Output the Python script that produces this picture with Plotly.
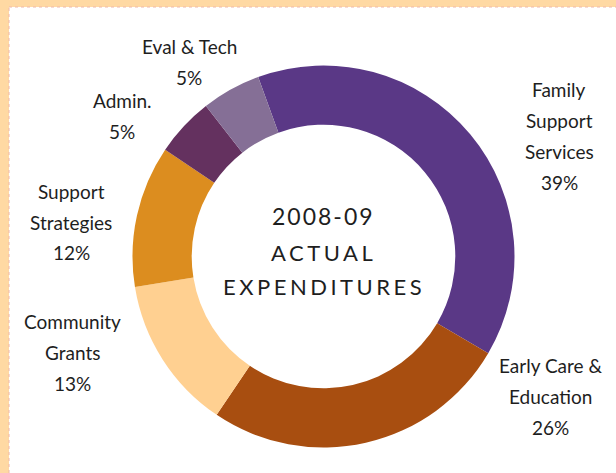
import plotly.graph_objects as go

# slices, clockwise from the top
labels = ['Family Support Services', 'Early Care & Education', 'Community Grants',
          'Support Strategies', 'Admin.', 'Eval & Tech']
label_lines = [['Family', 'Support', 'Services'], ['Early Care &', 'Education'],
               ['Community', 'Grants'], ['Support', 'Strategies'], ['Admin.'], ['Eval & Tech']]
values = [39, 26, 13, 12, 5, 5]
colors = ['#5a3886', '#a84e10', '#ffd091', '#dc8d1f', '#64315f', '#856f96']

W, H = 616, 473
cx, cy, r = 323.5, 256.5, 191

# where each label block sits (pixel centre)
label_pos = [(559, 136), (550, 396), (72, 352), (71, 222), (122, 116), (189, 62)]
line_gap = 31

fig = go.Figure(go.Pie(
    labels=labels, values=values, sort=False, direction='clockwise', rotation=-20,
    hole=0.69, textinfo='none', hoverinfo='label+percent',
    marker=dict(colors=colors, line=dict(width=0)),
    domain=dict(x=[(cx - r) / W, (cx + r) / W], y=[(H - cy - r) / H, (H - cy + r) / H]),
))

font = 'Lato, "Open Sans", sans-serif'
annotations = []
for lines, v, (px, py) in zip(label_lines, values, label_pos):
    rows = lines + [f'{v}%']
    n = len(rows)
    for i, t in enumerate(rows):
        y = py + (i - (n - 1) / 2) * line_gap
        annotations.append(dict(
            x=px / W, y=1 - y / H, xref='paper', yref='paper', showarrow=False,
            text=t, xanchor='center', yanchor='middle',
            font=dict(family=font, size=19, color='#1e1e1e')))

center_text = [('2008-09', 216, 23, 2), ('ACTUAL', 252, 22, 3.5), ('EXPENDITURES', 286, 22, 3.5)]
for t, y, s, sp in center_text:
    annotations.append(dict(
        x=cx / W, y=1 - y / H, xref='paper', yref='paper', showarrow=False,
        text=f'<span style="letter-spacing:{sp}px">{t}</span>',
        xanchor='center', yanchor='middle',
        font=dict(family=font, size=s, color='#1e1e1e')))

peach = '#ffd9a3'
shapes = [
    dict(type='rect', xref='paper', yref='paper', x0=0, x1=9 / W, y0=0, y1=1,
         fillcolor=peach, line=dict(width=0), layer='below'),
    dict(type='rect', xref='paper', yref='paper', x0=0, x1=1, y0=1 - 7 / H, y1=1,
         fillcolor=peach, line=dict(width=0), layer='below'),
    dict(type='line', xref='paper', yref='paper', x0=9 / W, x1=9 / W, y0=0, y1=1 - 7 / H,
         line=dict(color='#f0b8a8', width=1, dash='dot')),
    dict(type='line', xref='paper', yref='paper', x0=9 / W, x1=1, y0=1 - 7 / H, y1=1 - 7 / H,
         line=dict(color='#f0b8a8', width=1, dash='dot')),
]

fig.update_layout(
    width=W, height=H, margin=dict(l=0, r=0, t=0, b=0),
    paper_bgcolor='white', plot_bgcolor='white', showlegend=False,
    annotations=annotations, shapes=shapes,
)

fig.write_html("out.html", config={'displayModeBar': False},
               post_script="document.body.style.margin='0';")
